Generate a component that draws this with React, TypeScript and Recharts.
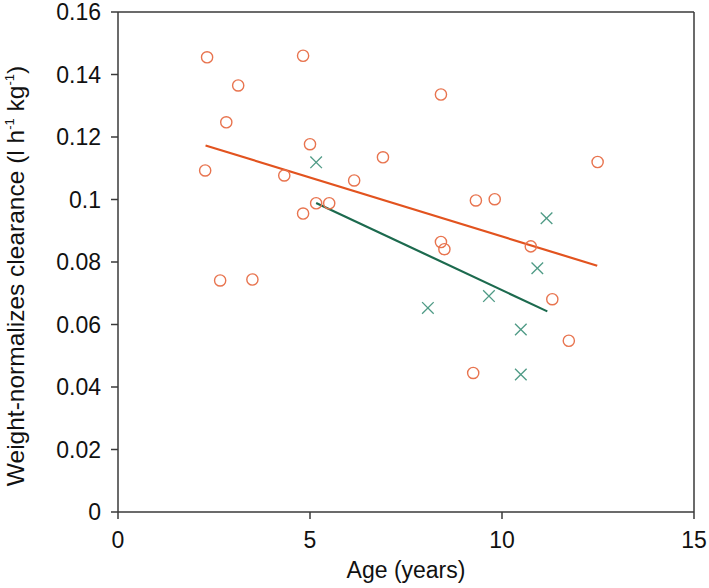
import React from "react";
import { ScatterChart, Scatter, XAxis, YAxis, ReferenceLine } from "recharts";

// circles
const circleAge = [2.32, 4.82, 3.13, 2.82, 2.27, 5.0, 4.33, 4.82, 5.16, 5.5, 2.66, 3.5, 6.15, 8.41, 6.9, 12.49, 9.32, 9.81, 8.41, 8.5, 10.75, 11.31, 11.74, 9.25];
const circleClr = [0.1455, 0.146, 0.1365, 0.1247, 0.1093, 0.1177, 0.1077, 0.0955, 0.0988, 0.0988, 0.0741, 0.0744, 0.1061, 0.1336, 0.1135, 0.112, 0.0997, 0.1001, 0.0864, 0.0841, 0.085, 0.0681, 0.0548, 0.0445];

// crosses
const crossAge = [5.16, 11.16, 10.92, 9.66, 8.07, 10.49, 10.49];
const crossClr = [0.1119, 0.094, 0.078, 0.0691, 0.0653, 0.0584, 0.044];

// fitted lines (end points)
const orangeFitAge = [2.28, 12.48];
const orangeFitClr = [0.1173, 0.0788];
const greenFitAge = [5.16, 11.18];
const greenFitClr = [0.0989, 0.0642];

const xTicks = [0, 5, 10, 15];
const yTicks = [0, 0.02, 0.04, 0.06, 0.08, 0.1, 0.12, 0.14, 0.16];

const zip = (xs: number[], ys: number[]) => xs.map((x, i) => ({ age: x, clr: ys[i] }));

const circles = zip(circleAge, circleClr);
const crosses = zip(crossAge, crossClr);
const orangeFit = zip(orangeFitAge, orangeFitClr);
const greenFit = zip(greenFitAge, greenFitClr);

const FONT = "'Liberation Sans', Arial, sans-serif";
const AXIS = "#3a3a3a";

const Circle = (p: any) => (
  <circle cx={p.cx} cy={p.cy} r={5.6} fill="none" stroke="#E8744F" strokeWidth={1.4} />
);

const Cross = (p: any) => {
  const s = 5.8;
  return (
    <g stroke="#4E9A85" strokeWidth={1.3}>
      <line x1={p.cx - s} y1={p.cy - s} x2={p.cx + s} y2={p.cy + s} />
      <line x1={p.cx - s} y1={p.cy + s} x2={p.cx + s} y2={p.cy - s} />
    </g>
  );
};

const NoDot = () => null;

const YTitle = () => {
  const cx = 24;
  const cy = 276;
  return (
    <text
      x={cx}
      y={cy}
      transform={`rotate(-90 ${cx} ${cy})`}
      textAnchor="middle"
      fontFamily={FONT}
      fontSize={24.5}
      fill="#111"
    >
      <tspan>Weight-normalizes clearance (l h</tspan>
      <tspan fontSize={13} dy={-10}>-1</tspan>
      <tspan dy={10}> kg</tspan>
      <tspan fontSize={13} dy={-10}>-1</tspan>
      <tspan dy={10}>)</tspan>
    </text>
  );
};

export default function App() {
  const tickStyle = { fontSize: 23, fill: "#111", fontFamily: FONT };
  return (
    <div style={{ width: 709, height: 588, background: "#fff" }}>
      <style>{`body{margin:0}`}</style>
      <ScatterChart width={709} height={588} margin={{ top: 12, right: 15, left: 0, bottom: 0 }}>
        <XAxis
          xAxisId="b"
          type="number"
          dataKey="age"
          domain={[0, 15]}
          ticks={xTicks}
          interval={0}
          height={76}
          tickSize={7}
          tickMargin={13}
          tick={tickStyle}
          axisLine={{ stroke: AXIS, strokeWidth: 1.5 }}
          tickLine={{ stroke: AXIS, strokeWidth: 1.5 }}
          label={{ value: "Age (years)", position: "insideBottom", offset: 10, fontSize: 23, fill: "#111", fontFamily: FONT }}
        />
        <YAxis
          yAxisId="l"
          type="number"
          dataKey="clr"
          domain={[0, 0.16]}
          ticks={yTicks}
          interval={0}
          width={118}
          tickSize={7}
          tickMargin={10}
          tick={tickStyle}
          tickFormatter={(v: number) => String(Number(v.toFixed(2)))}
          axisLine={{ stroke: AXIS, strokeWidth: 1.5 }}
          tickLine={{ stroke: AXIS, strokeWidth: 1.5 }}
          label={<YTitle />}
        />
        <ReferenceLine xAxisId="b" yAxisId="l" y={0.16} stroke={AXIS} strokeWidth={1.5} />
        <ReferenceLine xAxisId="b" yAxisId="l" x={15} stroke={AXIS} strokeWidth={1.5} />
        <Scatter
          xAxisId="b"
          yAxisId="l"
          data={orangeFit}
          line={{ stroke: "#E2531F", strokeWidth: 2.2 }}
          shape={NoDot}
          isAnimationActive={false}
        />
        <Scatter
          xAxisId="b"
          yAxisId="l"
          data={greenFit}
          line={{ stroke: "#1C6A4E", strokeWidth: 2.2 }}
          shape={NoDot}
          isAnimationActive={false}
        />
        <Scatter xAxisId="b" yAxisId="l" data={circles} shape={Circle} isAnimationActive={false} />
        <Scatter xAxisId="b" yAxisId="l" data={crosses} shape={Cross} isAnimationActive={false} />
      </ScatterChart>
    </div>
  );
}
